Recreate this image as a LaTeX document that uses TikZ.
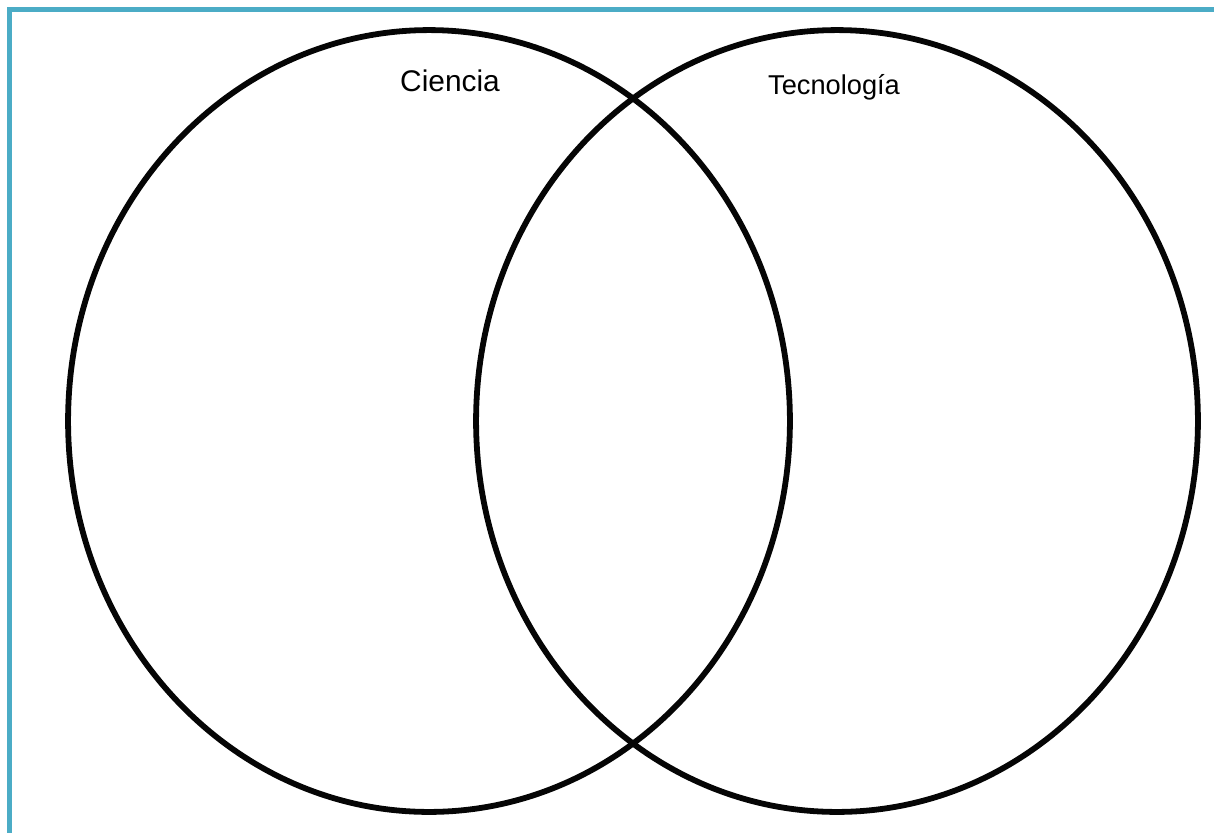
\documentclass[tikz,border=0pt]{standalone}
\usepackage{fontspec}
\setmainfont{Liberation Sans}
\usepackage{tikz}
\usetikzlibrary{positioning,shapes.geometric}
\definecolor{vnFrame}{HTML}{4BACC6}
\definecolor{vnRing}{HTML}{050505}

\begin{document}
\begin{tikzpicture}[
      x=0.02cm, y=-0.02cm,
      ring/.style={draw=vnRing, line width=3.3pt, ellipse, inner sep=0pt,
                   minimum width=14.44cm, minimum height=15.64cm},
      frame/.style={draw=vnFrame, line width=3pt},
      setlab/.style={anchor=base, inner sep=0pt}
    ]
      \useasboundingbox (0,0) rectangle (1214,833);

      % frame (top and left only)
      \draw[frame] (1214,9.5) -- (9.5,9.5) -- (9.5,833);

      % the two sets
      \node[ring] (ciencia) at (429,421) {};
      \node[ring] (tecnologia) at (837,421) {};

      \node[setlab, font=\fontsize{17}{20}\selectfont] (cienciaLab) at (450,91) {Ciencia};
      \node[setlab, font=\fontsize{15.5}{18}\selectfont] (tecnologiaLab) at (834,94) {Tecnología};
    \end{tikzpicture}
\end{document}
